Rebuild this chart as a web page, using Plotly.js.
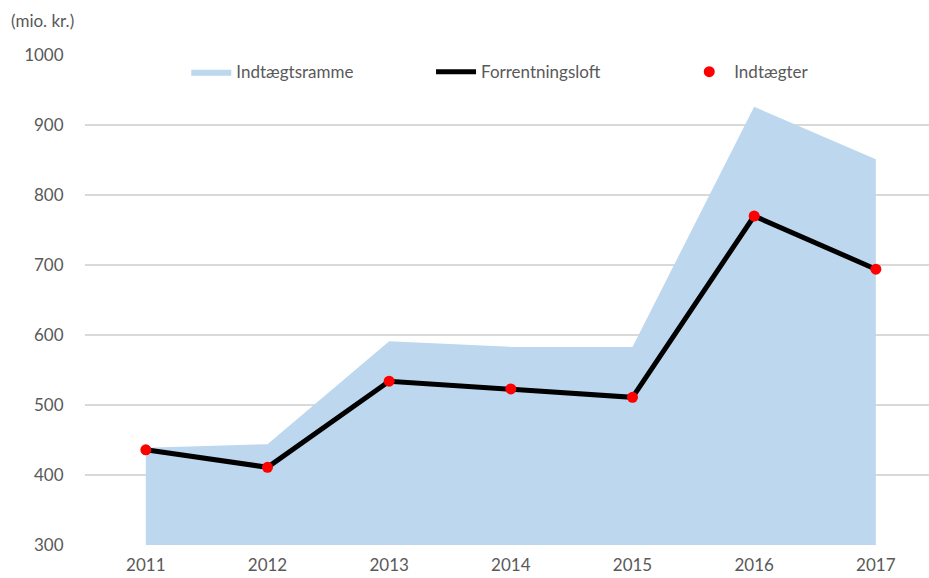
<!DOCTYPE html>
<html>
<head>
<meta charset="utf-8">
<script src="https://cdn.plot.ly/plotly-3.0.1.min.js"></script>
<style>
  html, body { margin: 0; padding: 0; background: #fff; }
  #chart { width: 929px; height: 578px; }
</style>
</head>
<body>
<div id="chart"></div>
<script>
const years = [2011, 2012, 2013, 2014, 2015, 2016, 2017]
const indtaegtsramme = [439, 444, 591, 583, 583, 926, 851]
const forrentningsloft = [436, 411, 534, 523, 511, 770, 694]
const indtaegter = [436, 411, 534, 523, 511, 770, 694]

const fontFamily = 'Lato, "Liberation Sans", sans-serif'
const gray = '#595959'

const traces = [
  {
    x: years,
    y: indtaegtsramme,
    name: 'Indtægtsramme',
    type: 'scatter',
    mode: 'lines',
    fill: 'tozeroy',
    fillcolor: '#bdd7ee',
    line: {width: 0, color: '#bdd7ee'},
    legend: 'legend'
  },
  {
    x: years,
    y: forrentningsloft,
    name: 'Forrentningsloft',
    type: 'scatter',
    mode: 'lines',
    line: {width: 5, color: '#000000'},
    legend: 'legend2'
  },
  {
    x: years,
    y: indtaegter,
    name: 'Indtægter',
    type: 'scatter',
    mode: 'markers',
    marker: {size: 11, color: '#ff0000'},
    legend: 'legend3'
  }
]

// one legend per series so each entry sits where it is in the original
const legendBase = (x) => ({
  orientation: 'h',
  x,
  xanchor: 'left',
  y: 0.965,
  yanchor: 'middle',
  itemwidth: 40,
  font: {size: 17, color: gray},
  bgcolor: 'rgba(0,0,0,0)'
})

const layout = {
  width: 929,
  height: 578,
  margin: {l: 85, r: 0, t: 55, b: 33},
  paper_bgcolor: '#ffffff',
  plot_bgcolor: '#ffffff',
  font: {family: fontFamily, color: gray, size: 17},
  showlegend: true,
  legend: legendBase(0.12),
  legend2: legendBase(0.41),
  legend3: legendBase(0.71),
  xaxis: {
    range: [2010.5, 2017.437],
    tickvals: years,
    ticktext: years.map(String),
    showgrid: false,
    zeroline: false,
    showline: false,
    ticks: 'outside',
    ticklen: 5,
    tickcolor: 'rgba(0,0,0,0)',
    tickfont: {size: 17, color: gray}
  },
  yaxis: {
    range: [300, 1000],
    dtick: 100,
    showgrid: true,
    gridcolor: '#d9d9d9',
    gridwidth: 2,
    zeroline: false,
    showline: false,
    ticks: 'outside',
    ticklen: 17,
    tickcolor: 'rgba(0,0,0,0)',
    tickfont: {size: 17, color: gray}
  },
  annotations: [{
    text: '(mio. kr.)',
    xref: 'paper', yref: 'paper',
    x: -0.09, y: 1.07,
    xanchor: 'left', yanchor: 'middle',
    showarrow: false,
    font: {size: 17, color: gray}
  }]
}

Plotly.newPlot('chart', traces, layout, {displayModeBar: false})
</script>
</body>
</html>
